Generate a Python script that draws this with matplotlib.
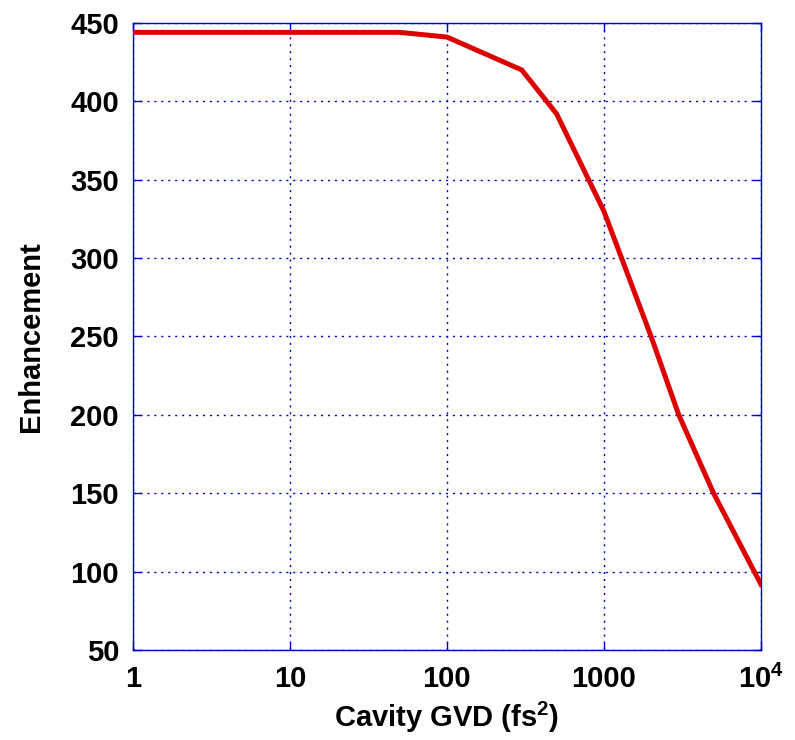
import matplotlib
matplotlib.use('Agg')
import matplotlib.pyplot as plt
from matplotlib.ticker import FixedLocator, NullLocator

plt.rcParams['font.family'] = ['Liberation Sans', 'DejaVu Sans']
plt.rcParams['font.weight'] = 'bold'
plt.rcParams['mathtext.fontset'] = 'custom'
plt.rcParams['mathtext.rm'] = 'Liberation Sans:bold'
plt.rcParams['mathtext.it'] = 'Liberation Sans:bold'
plt.rcParams['mathtext.bf'] = 'Liberation Sans:bold'
plt.rcParams['mathtext.default'] = 'rm'

# cavity GVD (fs^2) vs enhancement
gvd = [1, 10, 50, 100, 300, 500, 1000, 2000, 3000, 5000, 10000]
enhancement = [444, 444, 444, 441, 420, 392, 330, 250, 200, 150, 92]

x_ticks = [1, 10, 100, 1000, 10000]
x_tick_labels = ['1', '10', '100', '1000', r'$10^4$']
y_ticks = [50, 100, 150, 200, 250, 300, 350, 400, 450]

BLUE = '#0000CC'
FS = 21

fig = plt.figure(figsize=(7.95, 7.40), dpi=100)
ax = fig.add_axes([0.1673, 0.1216, 0.7897, 0.8474])

ax.plot(gvd, enhancement, color='#DD0000', lw=3.6, solid_joinstyle='miter', zorder=3)

ax.set_xscale('log')
ax.set_xlim(1, 1e4)
ax.set_ylim(50, 450)
ax.xaxis.set_major_locator(FixedLocator(x_ticks))
ax.xaxis.set_minor_locator(NullLocator())
ax.set_xticklabels(x_tick_labels)
ax.set_yticks(y_ticks)

# matlab-style dotted grid, blue box with inward ticks on all four sides
ax.grid(True, color=BLUE, linestyle=(0, (1.5, 3.5)), linewidth=1.0)
for side in ax.spines.values():
    side.set_color(BLUE)
    side.set_linewidth(1.0)
ax.tick_params(direction='in', length=6, width=1, color=BLUE,
               top=True, right=True, labelsize=FS, labelcolor='black')
ax.tick_params(axis='x', pad=10.5)
ax.tick_params(axis='y', pad=10)
for lab in ax.get_xticklabels() + ax.get_yticklabels():
    lab.set_fontweight('bold')

ax.set_xlabel('Cavity GVD (fs$^2$)', fontsize=FS, fontweight='bold', labelpad=4)
ax.set_ylabel('Enhancement', fontsize=FS, fontweight='bold', labelpad=18)

fig.savefig('out.png', dpi=100)
